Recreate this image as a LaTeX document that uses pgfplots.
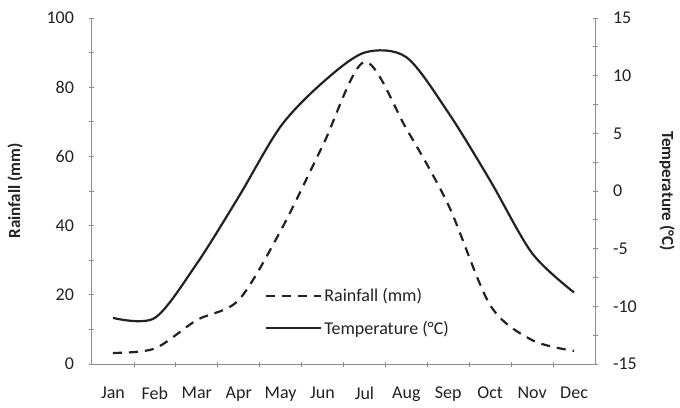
\documentclass[border=0pt]{standalone}
\usepackage{pgfplots}
\pgfplotsset{compat=1.18}
\usepackage{fontspec}
\setmainfont{Carlito}
\begin{document}
\begin{tikzpicture}
\definecolor{axgray}{HTML}{8C8C8C}
\definecolor{ink}{HTML}{222222}
\useasboundingbox (-92pt,-43pt) rectangle (588pt,364pt);
\tikzset{lab/.style={font=\bfseries\fontsize{17}{20}\selectfont, text=ink, anchor=center}}
\pgfplotsset{
  base/.style={
    scale only axis, width=503pt, height=346pt,
    xmin=-0.5, xmax=11.5,
    axis line style={axgray, line width=1pt},
    tick style={axgray, line width=0.8pt},
    major tick length=5pt, minor tick length=5pt,
    tick align=center,
    ticklabel style={font=\fontsize{18}{20}\selectfont, text=ink},
    /pgf/number format/assume math mode=true,
  },
}
\begin{axis}[base,
  axis y line*=left, axis x line*=bottom,
  ymin=0, ymax=100,
  ytick={0,20,...,100}, minor ytick={10,30,...,90},
  yticklabel style={xshift=-12pt},
  xtick={0,...,11},
  xticklabels={Jan,Feb,Mar,Apr,May,Jun,Jul,Aug,Sep,Oct,Nov,Dec},
  minor xtick={0.5,1.5,...,10.5},
  major x tick style={draw=none},
  xticklabel style={yshift=-17pt},
  ylabel={Rainfall (mm)},
  every axis y label/.style={lab, at={(rel axis cs:0,0.5)}, xshift=-77pt, rotate=90},
]
\addplot[ink, line width=2.2pt, smooth, dash pattern=on 9pt off 7pt] coordinates {
  (0,3.2) (1,4.5) (2,12.7) (3,18.5) (4,38.5) (5,63)
  (6,87.3) (7,68) (8,46) (9,17) (10,6.9) (11,3.8)
};
\end{axis}
\begin{axis}[base,
  axis y line*=right, axis x line=none,
  ymin=-15, ymax=15,
  ytick={-15,-10,...,15}, minor ytick={-12.5,-7.5,...,12.5},
  yticklabels={-15,-10,-5,0,5,10,15},
  yticklabel style={xshift=12pt, anchor=west},
  ylabel={Temperature (°C)},
  every axis y label/.style={lab, at={(rel axis cs:1,0.5)}, xshift=72pt, rotate=-90},
  legend style={at={(0.344,0.225)}, anchor=north west, draw=none, fill=none,
    font=\fontsize{18}{20}\selectfont, text=ink, row sep=14pt, inner sep=0pt},
  legend cell align=left,
  legend image code/.code={\draw[#1] (0pt,0pt) -- (55pt,0pt);},
]
\addlegendimage{ink, line width=2.2pt, dash pattern=on 9pt off 7pt}
\addlegendentry{Rainfall (mm)}
\addplot[ink, line width=2.2pt, smooth] coordinates {
  (0,-11.0) (1,-11.0) (2,-6.3) (3,-0.5) (4,5.6) (5,9.4)
  (6,12.0) (7,11.6) (8,6.8) (9,0.9) (10,-5.4) (11,-8.8)
};
\addlegendentry{Temperature (°C)}
\end{axis}
\end{tikzpicture}
\end{document}
